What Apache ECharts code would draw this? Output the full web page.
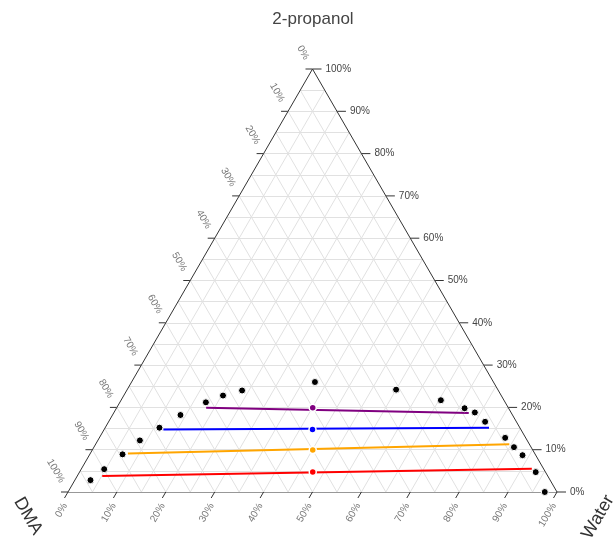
<!DOCTYPE html>
<html>
<head>
<meta charset="utf-8">
<script src="https://cdn.jsdelivr.net/npm/echarts@6/dist/echarts.min.js"></script>
<style>
  html, body { margin: 0; padding: 0; background: #fff; }
  #chart { width: 613px; height: 537px; }
</style>
</head>
<body>
<div id="chart"></div>
<script>
// Binodal curve compositions (mass %)
const binodalWater    = [3.2, 4.7, 6.7, 8.6, 11.1, 13.9, 17.6, 20.3, 23.6, 37.5, 55.0, 65.4, 71.2, 73.8, 77.0, 83.0, 85.9, 88.6, 93.3, 97.5];
const binodalPropanol = [2.8, 5.4, 8.9, 12.2, 15.2, 18.2, 21.2, 22.8, 24.0, 26.0, 24.2, 21.7, 19.8, 18.8, 16.6, 12.8, 10.6, 8.7, 4.7, 0.0];
const binodalDMA      = [94.0, 89.9, 84.4, 79.2, 73.7, 67.9, 61.2, 56.9, 52.4, 36.5, 20.8, 12.9, 9.0, 7.4, 6.4, 4.2, 3.5, 2.7, 2.0, 2.5];

// Tie lines: DMA-rich phase, water-rich phase and overall feed (mass %)
const tieColors        = ['#ff0000', '#ffa500', '#0000ff', '#800080'];
const tieLeftWater     = [5.1, 7.7, 12.1, 18.3];
const tieLeftPropanol  = [3.8, 9.1, 14.8, 19.9];
const tieRightWater    = [92.1, 84.6, 78.5, 72.6];
const tieRightPropanol = [5.5, 11.3, 15.2, 18.7];
const feedWater        = [47.7, 45.1, 42.6, 40.1];
const feedPropanol     = [4.7, 9.9, 14.8, 19.9];

// Axis ticks (%)
const tickValues = [0, 10, 20, 30, 40, 50, 60, 70, 80, 90, 100];
const gridStep = 5;

const H = Math.sqrt(3) / 2;
// ternary (water %, 2-propanol %) -> cartesian in a unit-side triangle
function toXY(water, propanol) {
  return [water / 100 + propanol / 200, (propanol / 100) * H];
}

// gridlines, three families every 5 %
const gridLines = [];
for (let v = gridStep; v < 100; v += gridStep) {
  gridLines.push({ coords: [toXY(0, v), toXY(100 - v, v)] });           // constant 2-propanol
  gridLines.push({ coords: [toXY(v, 0), toXY(v, 100 - v)] });           // constant water
  gridLines.push({ coords: [toXY(100 - v, 0), toXY(0, 100 - v)] });     // constant DMA
}
const edges = [
  { coords: [toXY(0, 0), toXY(100, 0)] },
  { coords: [toXY(100, 0), toXY(0, 100)] },
  { coords: [toXY(0, 100), toXY(0, 0)] }
];

const series = [
  {
    type: 'lines', coordinateSystem: 'cartesian2d', silent: true, z: 1,
    lineStyle: { color: '#e1e1e1', width: 1, opacity: 1 },
    data: gridLines
  },
  {
    type: 'lines', coordinateSystem: 'cartesian2d', silent: true, z: 2,
    lineStyle: { color: '#333', width: 1, opacity: 1 },
    data: edges
  }
];

tieColors.forEach((c, i) => {
  series.push({
    type: 'line', z: 3, symbol: 'none', silent: true,
    lineStyle: { color: c, width: 2 },
    data: [toXY(tieLeftWater[i], tieLeftPropanol[i]), toXY(tieRightWater[i], tieRightPropanol[i])]
  });
  series.push({
    type: 'scatter', z: 4, symbolSize: 7, silent: true,
    itemStyle: { color: c, borderColor: '#fff', borderWidth: 1.5, opacity: 1 },
    data: [toXY(feedWater[i], feedPropanol[i])]
  });
});

series.push({
  type: 'scatter', z: 5, symbolSize: 7, silent: true,
  itemStyle: { color: '#000', borderColor: '#fff', borderWidth: 1, opacity: 1 },
  data: binodalWater.map((w, i) => toXY(w, binodalPropanol[i]))
});

const chart = echarts.init(document.getElementById('chart'), null, { renderer: 'canvas' });
chart.setOption({
  animation: false,
  backgroundColor: '#fff',
  grid: { left: 68, top: 69, width: 489, height: 423, containLabel: false },
  xAxis: { type: 'value', min: 0, max: 1, show: false },
  yAxis: { type: 'value', min: 0, max: H, show: false },
  series: series
});

// ticks and labels along the three triangle edges
const pix = (w, p) => chart.convertToPixel({ gridIndex: 0 }, toXY(w, p));
const graphics = [];
const tickStyle = { stroke: '#333', lineWidth: 1 };
const labelFont = '10px "Liberation Sans", Arial, sans-serif';

tickValues.forEach(v => {
  // right edge: 2-propanol
  let [x, y] = pix(100 - v, v);
  graphics.push({ type: 'line', shape: { x1: x, y1: y, x2: x + 9, y2: y }, style: tickStyle, silent: true });
  graphics.push({ type: 'text', x: x + 13, y: y, silent: true,
    style: { text: v + '%', font: labelFont, fill: '#444', align: 'left', verticalAlign: 'middle' } });

  // left edge: DMA
  [x, y] = pix(0, 100 - v);
  graphics.push({ type: 'line', shape: { x1: x, y1: y, x2: x - 7, y2: y }, style: tickStyle, silent: true });
  graphics.push({ type: 'text', x: x - 6, y: y - 10, rotation: -Math.PI / 3, silent: true,
    style: { text: v + '%', font: labelFont, fill: '#777', align: 'right', verticalAlign: 'middle' } });

  // bottom edge: Water
  [x, y] = pix(v, 0);
  graphics.push({ type: 'line', shape: { x1: x, y1: y, x2: x - 3.5, y2: y + 6 }, style: tickStyle, silent: true });
  graphics.push({ type: 'text', x: x - 3, y: y + 12, rotation: Math.PI / 3, silent: true,
    style: { text: v + '%', font: labelFont, fill: '#777', align: 'right', verticalAlign: 'middle' } });
});

const titleFont = '18px "Liberation Sans", Arial, sans-serif';
graphics.push({ type: 'text', x: 313, y: 19, silent: true,
  style: { text: '2-propanol', font: '17px "Liberation Sans", Arial, sans-serif', fill: '#444', align: 'center', verticalAlign: 'middle' } });
graphics.push({ type: 'text', x: 28, y: 516, rotation: -Math.PI / 3, silent: true,
  style: { text: 'DMA', font: titleFont, fill: '#333', align: 'center', verticalAlign: 'middle' } });
graphics.push({ type: 'text', x: 598, y: 517, rotation: Math.PI / 3, silent: true,
  style: { text: 'Water', font: titleFont, fill: '#333', align: 'center', verticalAlign: 'middle' } });

chart.setOption({ graphic: graphics });
</script>
</body>
</html>
